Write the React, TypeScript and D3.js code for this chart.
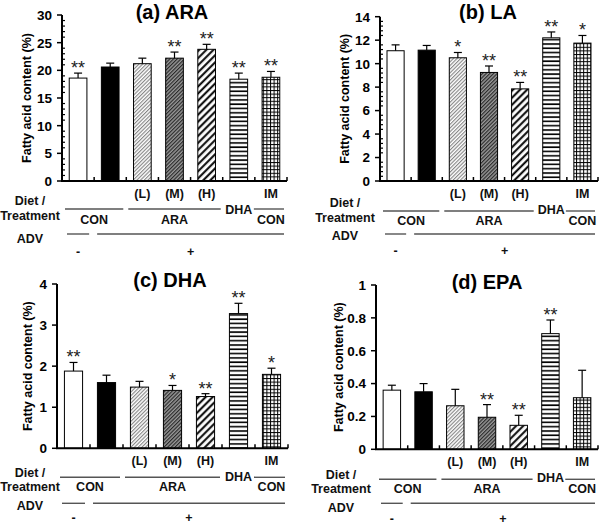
import * as d3 from "d3";

// seven groups: diet/treatment with ADV - / +
const categories = ["CON -", "CON +", "ARA (L) +", "ARA (M) +", "ARA (H) +", "DHA +", "IM CON +"];

const araMean = [18.6, 20.6, 21.2, 22.2, 23.8, 18.4, 18.75];
const araErr = [0.9, 0.7, 1.0, 1.1, 0.9, 1.1, 1.05];
const araSig = ["**", "", "", "**", "**", "**", "**"];
const araTicks = [0, 5, 10, 15, 20, 25, 30];

const laMean = [11.1, 11.15, 10.5, 9.25, 7.85, 12.2, 11.75];
const laErr = [0.5, 0.4, 0.45, 0.55, 0.55, 0.5, 0.65];
const laSig = ["", "", "*", "**", "**", "**", "*"];
const laTicks = [0, 2, 4, 6, 8, 10, 12, 14];

const dhaMean = [1.88, 1.6, 1.49, 1.41, 1.26, 3.28, 1.8];
const dhaErr = [0.21, 0.18, 0.14, 0.12, 0.07, 0.25, 0.15];
const dhaSig = ["**", "", "", "*", "**", "**", "*"];
const dhaTicks = [0, 1, 2, 3, 4];

const epaMean = [0.36, 0.35, 0.265, 0.195, 0.146, 0.704, 0.314];
const epaErr = [0.03, 0.05, 0.1, 0.077, 0.061, 0.083, 0.167];
const epaSig = ["", "", "", "**", "**", "**", ""];
const epaTicks = [0, 0.2, 0.4, 0.6, 0.8, 1];

const fills = ["#fff", "#000", "url(#pLight)", "url(#pDark)", "url(#pCoarse)", "url(#pHoriz)", "url(#pGrid)"];

const FONT = "'Liberation Sans', Arial, Helvetica, sans-serif";

const panels = [
  {
    title: "(a) ARA", mean: araMean, err: araErr, sig: araSig, ticks: araTicks, minor: 1,
    axisX: 62, axisEnd: 287, y0: 181, yTop: 15, titleX: 172, titleY: 18.5, yLabelX: 30.5, leftX: 30,
    off: { lmh: 16.5, diet: 24, line: 28, treat: 39, con: 43, dha: 33, advLine: 53, adv: 62, sign: 75 },
  },
  {
    title: "(b) LA", mean: laMean, err: laErr, sig: laSig, ticks: laTicks, minor: 0.4,
    axisX: 380, axisEnd: 598, y0: 181, yTop: 16.7, titleX: 488, titleY: 18.5, yLabelX: 349, leftX: 345,
    off: { lmh: 17, diet: 26, line: 30, treat: 41, con: 44, dha: 33, advLine: 53, adv: 59, sign: 74 },
  },
  {
    title: "(c) DHA", mean: dhaMean, err: dhaErr, sig: dhaSig, ticks: dhaTicks, minor: 0,
    axisX: 57, axisEnd: 288, y0: 448.3, yTop: 284, titleX: 170, titleY: 287, yLabelX: 32, leftX: 30,
    off: { lmh: 17, diet: 29, line: 29, treat: 43, con: 43, dha: 33, advLine: 55, adv: 62, sign: 73.5 },
  },
  {
    title: "(d) EPA", mean: epaMean, err: epaErr, sig: epaSig, ticks: epaTicks, minor: 0,
    axisX: 376, axisEnd: 598, y0: 449.3, yTop: 285, titleX: 487, titleY: 289, yLabelX: 343, leftX: 341,
    off: { lmh: 17, diet: 30, line: 30, treat: 43.5, con: 44, dha: 33, advLine: 54, adv: 63, sign: 73.5 },
  },
];

function Panel({ p }: { p: any }) {
  const x = d3
    .scaleBand()
    .domain(categories)
    .range([p.axisX, p.axisEnd])
    .paddingInner(0.45)
    .paddingOuter(0.225);
  const max = p.ticks[p.ticks.length - 1];
  const y = d3.scaleLinear().domain([0, max]).range([p.y0, p.yTop]);
  const step = x.step();
  const bs = (i: number) => p.axisX + i * step;
  const cx = (i: number) => (x(categories[i]) as number) + x.bandwidth() / 2;
  const minors =
    p.minor > 0
      ? d3.range(0, max + 1e-9, p.minor).filter((v) => !p.ticks.some((t: number) => Math.abs(t - v) < 1e-6))
      : [];
  const fmt = (v: number) => (max <= 1 ? d3.format("~g")(v) : String(v));
  const o = p.off;
  const txt = { fontFamily: FONT, fontWeight: "bold", fontSize: 12.5, fill: "#111" } as const;
  const lineStyle = { stroke: "#555", strokeWidth: 1.4 };

  return (
    <g>
      <text x={p.titleX} y={p.titleY} textAnchor="middle" style={{ fontFamily: FONT, fontWeight: "bold", fontSize: 20 }}>
        {p.title}
      </text>
      <text
        transform={`translate(${p.yLabelX},${(p.y0 + p.yTop) / 2}) rotate(-90)`}
        textAnchor="middle"
        style={{ fontFamily: FONT, fontWeight: "bold", fontSize: 12.5 }}
      >
        Fatty acid content (%)
      </text>

      {/* bars */}
      {p.mean.map((m: number, i: number) => {
        const top = y(m);
        const et = y(m + p.err[i]);
        const c = cx(i);
        return (
          <g key={i}>
            <rect x={x(categories[i])} y={top} width={x.bandwidth()} height={p.y0 - top} fill={fills[i]} stroke="#000" strokeWidth={1} />
            <line x1={c} x2={c} y1={top} y2={et} stroke="#000" strokeWidth={1.2} />
            <line x1={c - 4} x2={c + 4} y1={et} y2={et} stroke="#000" strokeWidth={1.2} />
            {p.sig[i] && (
              <text x={c} y={et + 1} textAnchor="middle" style={{ fontFamily: FONT, fontSize: 18, fill: "#222" }}>
                {p.sig[i]}
              </text>
            )}
          </g>
        );
      })}

      {/* y axis */}
      <line x1={p.axisX} x2={p.axisX} y1={p.y0} y2={p.yTop} stroke="#000" strokeWidth={2} />
      {p.ticks.map((t: number) => (
        <g key={t}>
          <line x1={p.axisX - 5} x2={p.axisX} y1={y(t)} y2={y(t)} stroke="#000" strokeWidth={1.5} />
          <text x={p.axisX - 10} y={y(t)} dy="0.36em" textAnchor="end" style={{ fontFamily: FONT, fontWeight: "bold", fontSize: 13.5 }}>
            {fmt(t)}
          </text>
        </g>
      ))}
      {minors.map((t: number, i: number) => (
        <line key={i} x1={p.axisX} x2={p.axisX + 3} y1={y(t)} y2={y(t)} stroke="#000" strokeWidth={1.2} />
      ))}

      {/* x axis */}
      <line x1={p.axisX - 1} x2={p.axisEnd} y1={p.y0} y2={p.y0} stroke="#000" strokeWidth={2} />
      {d3.range(1, 8).map((i) => (
        <line key={i} x1={bs(i)} x2={bs(i)} y1={p.y0} y2={p.y0 - 4} stroke="#000" strokeWidth={1.5} />
      ))}

      {/* group annotation */}
      <text x={cx(2)} y={p.y0 + o.lmh} textAnchor="middle" style={txt}>(L)</text>
      <text x={cx(3)} y={p.y0 + o.lmh} textAnchor="middle" style={txt}>(M)</text>
      <text x={cx(4)} y={p.y0 + o.lmh} textAnchor="middle" style={txt}>(H)</text>
      <text x={cx(6)} y={p.y0 + o.lmh} textAnchor="middle" style={txt}>IM</text>

      <text x={p.leftX} y={p.y0 + o.diet} textAnchor="middle" style={txt}>Diet /</text>
      <text x={p.leftX} y={p.y0 + o.treat} textAnchor="middle" style={txt}>Treatment</text>
      <text x={p.leftX} y={p.y0 + o.adv} textAnchor="middle" style={txt}>ADV</text>

      <line x1={bs(0) + 3} x2={bs(2) - 3} y1={p.y0 + o.line} y2={p.y0 + o.line} style={lineStyle} />
      <line x1={bs(2) + 2} x2={bs(5) - 2} y1={p.y0 + o.line} y2={p.y0 + o.line} style={lineStyle} />
      <line x1={bs(6) - 1} x2={bs(7) - 3} y1={p.y0 + o.line} y2={p.y0 + o.line} style={lineStyle} />
      <text x={cx(5)} y={p.y0 + o.dha} textAnchor="middle" style={txt}>DHA</text>

      <text x={bs(1)} y={p.y0 + o.con} textAnchor="middle" style={txt}>CON</text>
      <text x={cx(3)} y={p.y0 + o.con} textAnchor="middle" style={txt}>ARA</text>
      <text x={cx(6)} y={p.y0 + o.con} textAnchor="middle" style={txt}>CON</text>

      <line x1={bs(0) + 5} x2={bs(1) - 5} y1={p.y0 + o.advLine} y2={p.y0 + o.advLine} style={lineStyle} />
      <line x1={bs(1) + 3} x2={bs(7) - 3} y1={p.y0 + o.advLine} y2={p.y0 + o.advLine} style={lineStyle} />
      <text x={cx(0)} y={p.y0 + o.sign} textAnchor="middle" style={txt}>-</text>
      <text x={(bs(1) + bs(7)) / 2} y={p.y0 + o.sign} textAnchor="middle" style={txt}>+</text>
    </g>
  );
}

export default function App() {
  return (
    <svg width={600} height={525} style={{ position: "absolute", left: 0, top: 0, background: "#fff" }}>
      <defs>
        <pattern id="pLight" width={2.6} height={2.6} patternUnits="userSpaceOnUse" patternTransform="rotate(45)">
          <rect width={2.6} height={2.6} fill="#fff" />
          <line x1={0.6} x2={0.6} y1={0} y2={2.6} stroke="#777" strokeWidth={1} />
        </pattern>
        <pattern id="pDark" width={2.6} height={2.6} patternUnits="userSpaceOnUse" patternTransform="rotate(45)">
          <rect width={2.6} height={2.6} fill="#999" />
          <line x1={0.6} x2={0.6} y1={0} y2={2.6} stroke="#222" strokeWidth={1.1} />
        </pattern>
        <pattern id="pCoarse" width={5} height={5} patternUnits="userSpaceOnUse" patternTransform="rotate(45)">
          <rect width={5} height={5} fill="#fff" />
          <line x1={1.2} x2={1.2} y1={0} y2={5} stroke="#000" strokeWidth={2} />
        </pattern>
        <pattern id="pHoriz" width={4} height={4.3} patternUnits="userSpaceOnUse">
          <rect width={4} height={4.3} fill="#fff" />
          <line x1={0} x2={4} y1={1} y2={1} stroke="#000" strokeWidth={1.6} />
        </pattern>
        <pattern id="pGrid" width={3.6} height={3.6} patternUnits="userSpaceOnUse">
          <rect width={3.6} height={3.6} fill="#fff" />
          <line x1={0} x2={3.6} y1={0.5} y2={0.5} stroke="#000" strokeWidth={1} />
          <line x1={0.5} x2={0.5} y1={0} y2={3.6} stroke="#000" strokeWidth={1} />
        </pattern>
      </defs>
      {panels.map((p, i) => (
        <Panel key={i} p={p} />
      ))}
    </svg>
  );
}
